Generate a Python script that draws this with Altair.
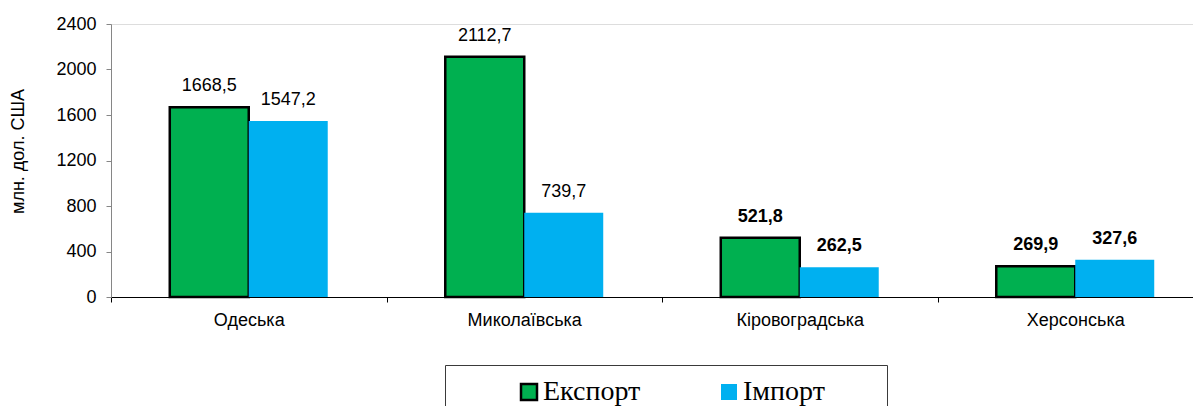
import altair as alt
import pandas as pd

regions = ["Одеська", "Миколаївська", "Кіровоградська", "Херсонська"]
export_vals = [1668.5, 2112.7, 521.8, 269.9]
import_vals = [1547.2, 739.7, 262.5, 327.6]
series = ["Експорт", "Імпорт"]
bold_regions = ["Кіровоградська", "Херсонська"]
y_ticks = [0, 400, 800, 1200, 1600, 2000, 2400]
colors = ["#00B050", "#00B0F0"]
outline = ["#000000", "transparent"]

rows = []
for i, r in enumerate(regions):
    rows.append({"region": r, "series": series[0], "value": export_vals[i], "bold": r in bold_regions})
    rows.append({"region": r, "series": series[1], "value": import_vals[i], "bold": r in bold_regions})
df = pd.DataFrame(rows)

FONT = "Liberation Sans"
# trailing blank padding for the legend frame (ends with a non-trimmed blank glyph)
PAD = "\u00a0" * 4 + "\u2800"

x_enc = alt.X(
    "region:N",
    sort=regions,
    scale=alt.Scale(range=[0, 1102], paddingInner=0, paddingOuter=0),
    axis=alt.Axis(
        title=None, labelAngle=0, tickBand="extent", tickSize=5, labelPadding=9,
        domainColor="#000000", tickColor="#000000", labelFontSize=18,
        labelFont=FONT, labelColor="#000000",
    ),
)
xo_enc = alt.XOffset(
    "series:N", sort=series,
    scale=alt.Scale(domain=series, paddingInner=0, paddingOuter=0.744),
)
y_enc = alt.Y(
    "value:Q",
    scale=alt.Scale(domain=[0, 2400], nice=False),
    axis=alt.Axis(
        values=y_ticks, format="d", title="млн. дол. США", grid=False, tickSize=5, labelPadding=10,
        domainColor="#868686", tickColor="#868686", labelFontSize=18, labelFont=FONT,
        labelColor="#000000", titleFontSize=18, titleFont=FONT, titleFontWeight="normal",
        titleColor="#000000", titleX=-88, titleY=127, titleBaseline="alphabetic",
    ),
)

leg = alt.Legend(
    title="\u00a0", titleOrient="left", titleFontSize=1, titlePadding=57,
    orient="none", legendX=334, legendY=341, direction="horizontal",
    symbolType="square", symbolSize=256, symbolStrokeWidth=2.5,
    labelFont="Liberation Serif", labelFontSize=28, labelColor="#000000",
    labelOffset=0, columnPadding=74, padding=13, strokeColor="#3a3a3a",
    labelLimit=400,
    labelExpr="datum.label == 'Імпорт' ? datum.label + '" + PAD + "' : datum.label",
)

bars = alt.Chart(df).mark_bar(strokeWidth=2.5).encode(
    x=x_enc,
    xOffset=xo_enc,
    y=y_enc,
    fill=alt.Fill("series:N", sort=series, scale=alt.Scale(domain=series, range=colors), legend=leg),
    stroke=alt.Stroke("series:N", sort=series, scale=alt.Scale(domain=series, range=outline), legend=leg),
)

base_text = alt.Chart(df).transform_calculate(
    lbl="replace(format(datum.value, '.1f'), '.', ',')"
)

text_normal = base_text.transform_filter("!datum.bold").mark_text(
    dy=-16, baseline="alphabetic", fontSize=18, font=FONT, color="#000000"
).encode(x=x_enc, xOffset=xo_enc, y=y_enc, text="lbl:N")

text_bold = base_text.transform_filter("datum.bold").mark_text(
    dy=-16, baseline="alphabetic", fontSize=18, font=FONT, color="#000000", fontWeight="bold"
).encode(x=x_enc, xOffset=xo_enc, y=y_enc, text="lbl:N")

chart = alt.layer(bars, text_normal, text_bold).properties(
    width=1082, height=273,
    autosize=alt.AutoSizeParams(type="none"),
    padding={"left": 103, "top": 16, "right": 0, "bottom": 109},
).configure_view(stroke=None).configure(background="white")

chart.save("out.html", embed_options={"renderer": "svg", "actions": False})
